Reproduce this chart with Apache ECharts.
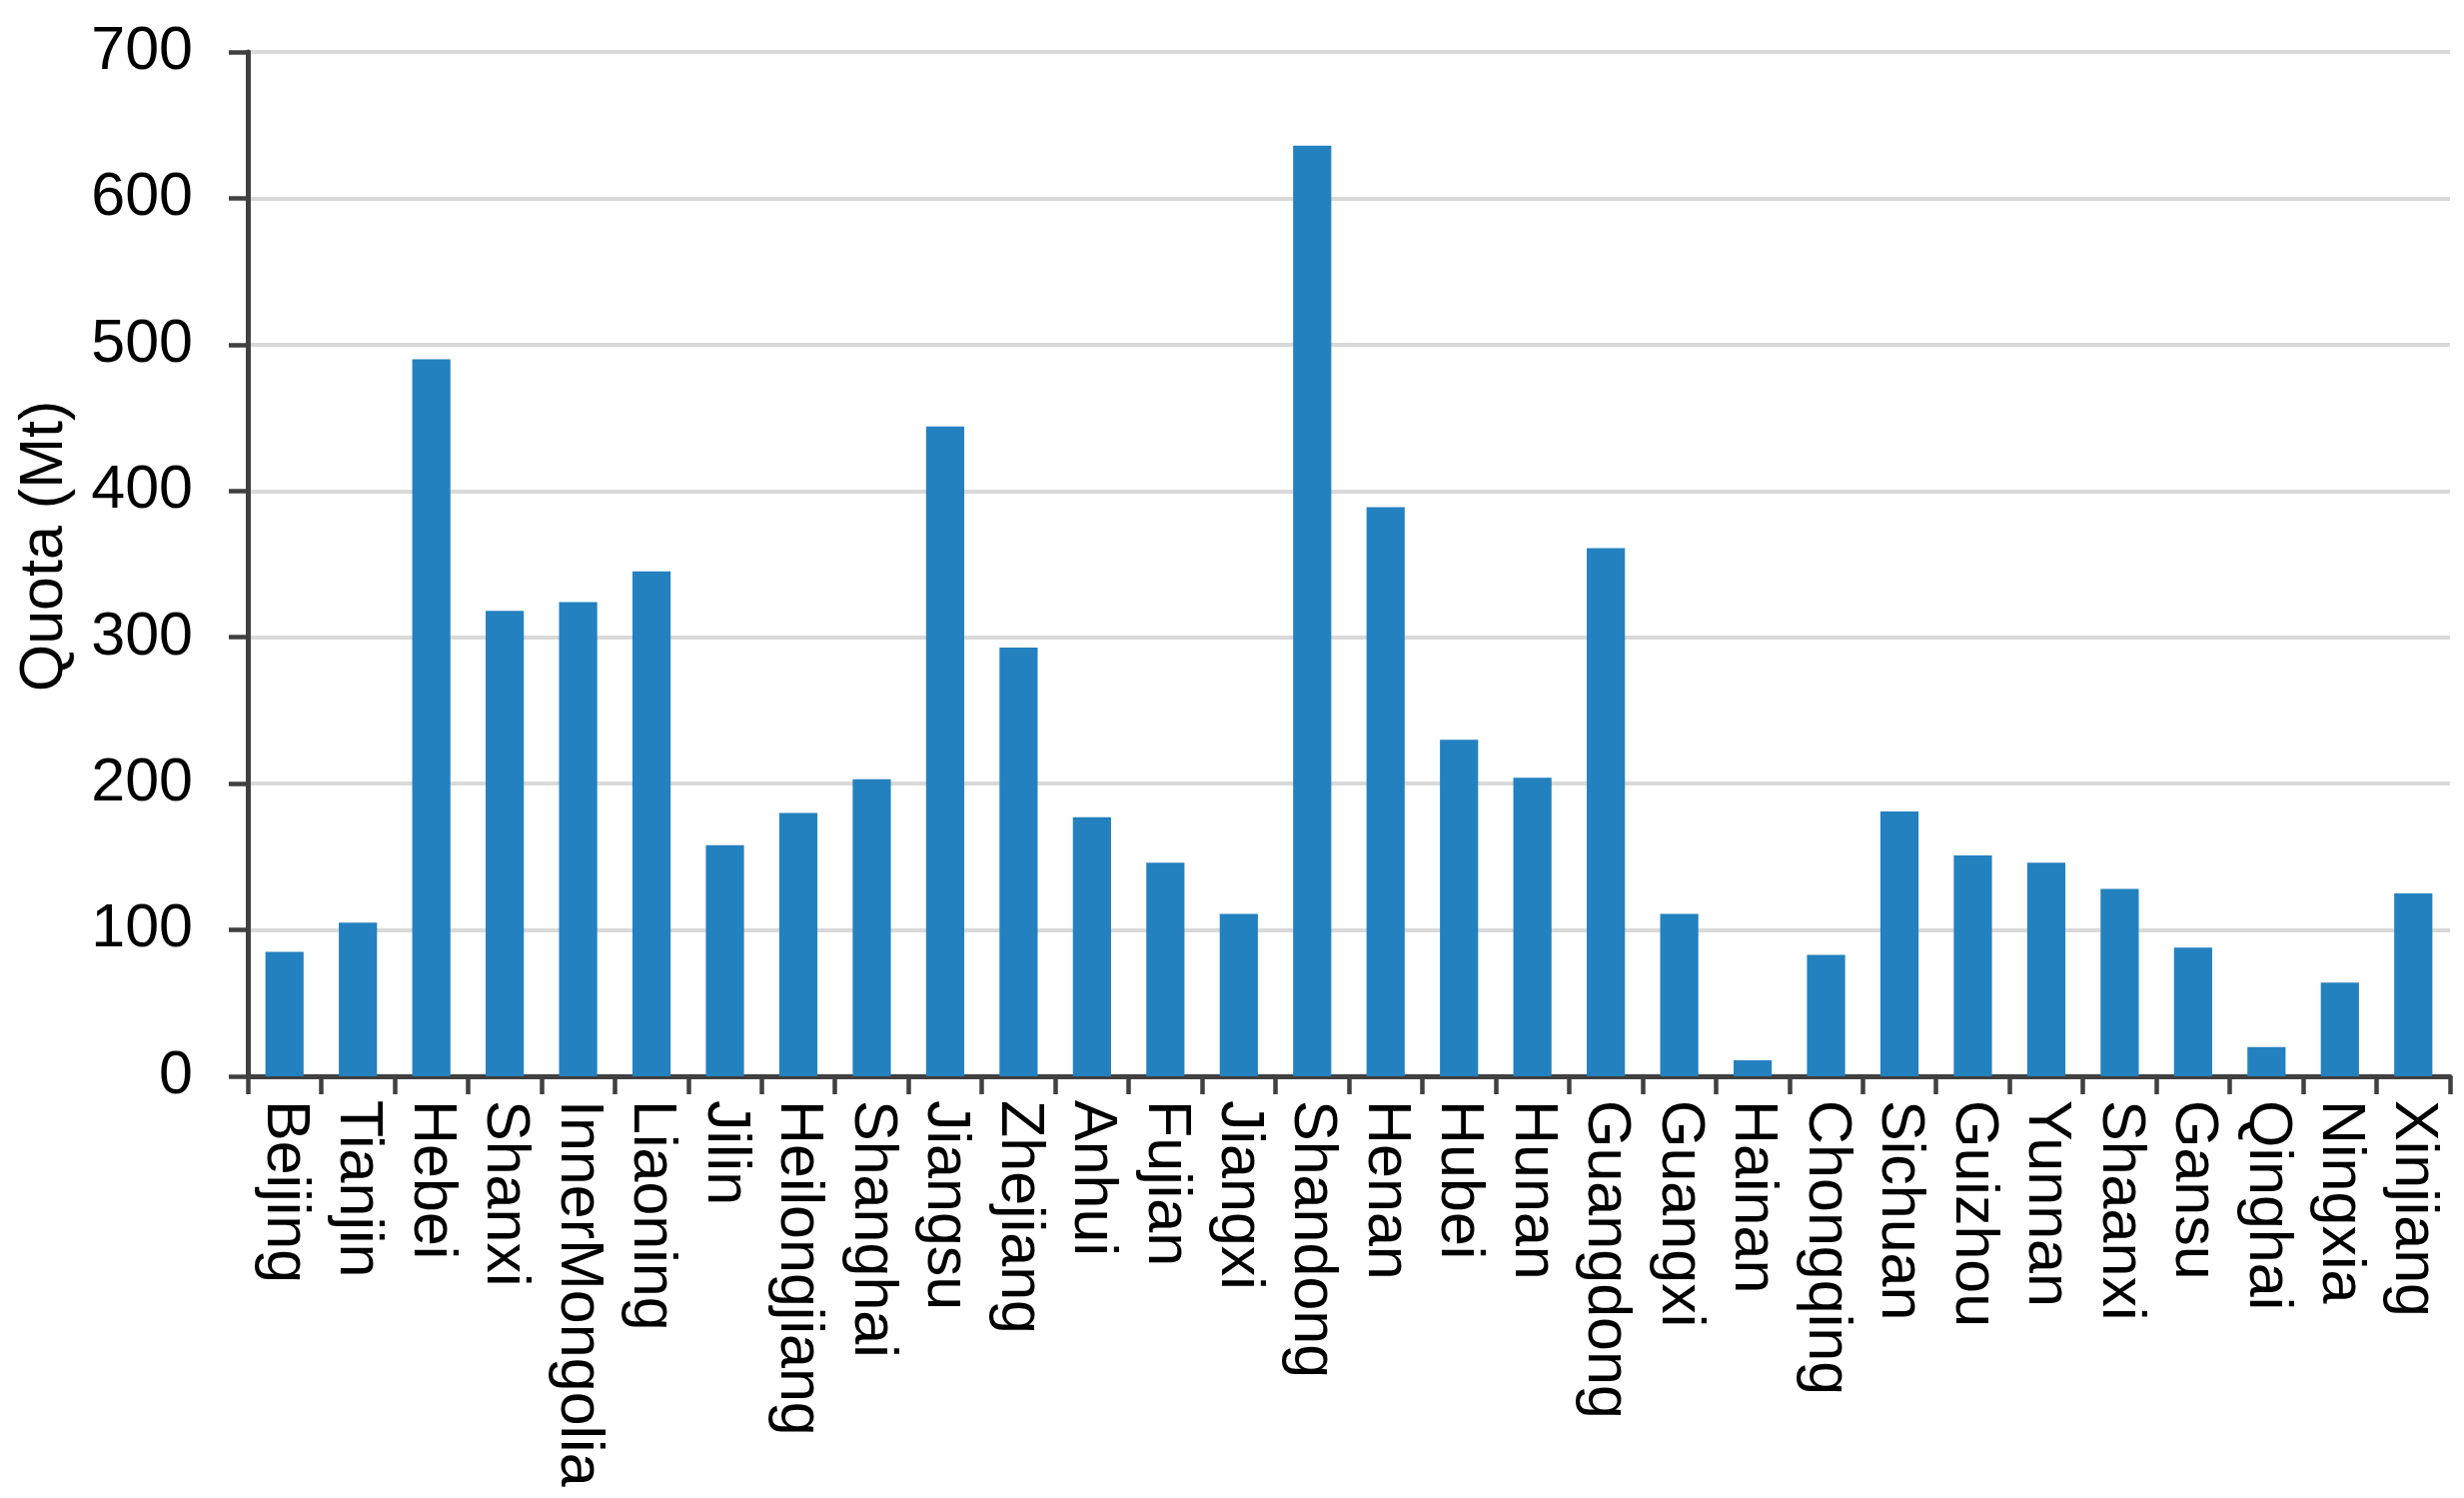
<!DOCTYPE html>
<html>
<head>
<meta charset="utf-8">
<script src="https://cdn.jsdelivr.net/npm/echarts@6/dist/echarts.min.js"></script>
<style>
html,body{margin:0;padding:0;background:#fff;}
#c{width:2466px;height:1499px;}
</style>
</head>
<body>
<div id="c"></div>
<script>
const provinces = ["Beijing","Tianjin","Hebei","Shanxi","InnerMongolia","Liaoning","Jilin","Heilongjiang","Shanghai","Jiangsu","Zhejiang","Anhui","Fujian","Jiangxi","Shandong","Henan","Hubei","Hunan","Guangdong","Guangxi","Hainan","Chongqing","Sichuan","Guizhou","Yunnan","Shaanxi","Gansu","Qinghai","Ningxia","Xinjiang"];
const quota = [85,105,490,318,324,345,158,180,203,444,293,177,146,111,636,389,230,204,361,111,11,83,181,151,146,128,88,20,64,125];
const yTicks = {min:0, max:700, interval:100};
const yName = "Quota (Mt)";

const chart = echarts.init(document.getElementById('c'), null, {renderer:'canvas'});
const font = "'Liberation Sans', Arial, sans-serif";
chart.setOption({
  animation:false,
  backgroundColor:'#ffffff',
  grid:{left:248, right:14, top:52, bottom:422, containLabel:false},
  xAxis:{
    type:'category',
    data:provinces,
    boundaryGap:true,
    axisLine:{show:true, lineStyle:{color:'#404040', width:5}},
    axisTick:{show:true, length:18, lineStyle:{color:'#404040', width:4.5}},
    axisLabel:{rotate:-90, margin:24, color:'#000', fontSize:61, fontFamily:font, interval:0},
    splitLine:{show:false}
  },
  yAxis:{
    type:'value',
    min:yTicks.min, max:yTicks.max, interval:yTicks.interval,
    name:yName,
    nameLocation:'middle',
    nameGap:172,
    nameRotate:90,
    nameTextStyle:{color:'#000', fontSize:61, fontFamily:font, padding:[0,0,0,36]},
    axisLine:{show:true, lineStyle:{color:'#404040', width:5}},
    axisTick:{show:true, length:19, lineStyle:{color:'#404040', width:4.5}},
    axisLabel:{margin:55, color:'#000', fontSize:61, fontFamily:font},
    splitLine:{show:true, lineStyle:{color:'#d9d9d9', width:4}}
  },
  series:[{
    type:'bar',
    data:quota,
    barWidth:'52%',
    itemStyle:{color:'#2481c0'}
  }]
});
</script>
</body>
</html>
